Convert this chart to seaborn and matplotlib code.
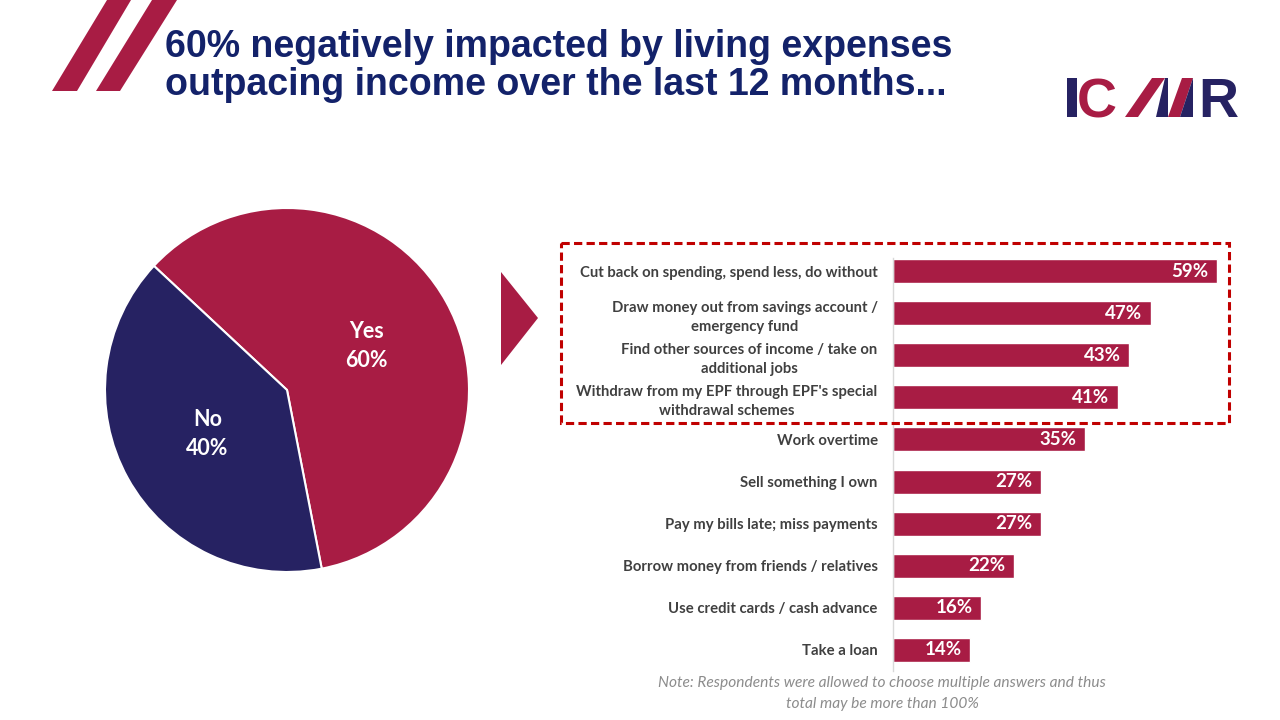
import numpy as np
import pandas as pd
import seaborn as sns
import matplotlib.pyplot as plt
from matplotlib.patches import Polygon, Rectangle


CRIMSON = '#A81C44'
NAVY = '#262262'
TITLE_NAVY = '#13226A'
LABEL_GREY = '#404040'

# pie data
pie_labels = ['Yes', 'No']
pie_values = [60, 40]

# bar data
actions = [
    'Cut back on spending, spend less, do without',
    'Draw money out from savings account /\nemergency fund',
    'Find other sources of income / take on\nadditional jobs',
    "Withdraw from my EPF through EPF's special\nwithdrawal schemes",
    'Work overtime',
    'Sell something I own',
    'Pay my bills late; miss payments',
    'Borrow money from friends / relatives',
    'Use credit cards / cash advance',
    'Take a loan',
]
action_pct = [59, 47, 43, 41, 35, 27, 27, 22, 16, 14]

title_lines = ['60% negatively impacted by living expenses',
               'outpacing income over the last 12 months...']
note_lines = ['Note: Respondents were allowed to choose multiple answers and thus',
              'total may be more than 100%']


sns.set_theme(style='white')
plt.rcParams['font.family'] = ['Lato', 'DejaVu Sans']

fig = plt.figure(figsize=(12.8, 7.2), dpi=100)
fig.patch.set_facecolor('white')

# ---- pie ----
ax_pie = fig.add_axes([105 / 1280, 148 / 720, 364 / 1280, 364 / 720])
wedges, texts = ax_pie.pie(
    pie_values,
    labels=[f'{l}\n{v}%' for l, v in zip(pie_labels, pie_values)],
    colors=[CRIMSON, NAVY],
    startangle=-79,
    labeldistance=0.5,
    wedgeprops=dict(edgecolor='white', linewidth=1.5),
    textprops=dict(color='white', fontsize=15.5, fontweight='bold'),
)
for t in texts:
    t.set_ha('center')
    t.set_va('center')
    t.set_multialignment('center')
    t.set_linespacing(1.45)
ax_pie.set_xlim(-1, 1)
ax_pie.set_ylim(-1, 1)

# ---- bars ----
df = pd.DataFrame({'action': actions, 'pct': action_pct})
ax = fig.add_axes([893 / 1280, 49 / 720, 340 / 1280, 421 / 720])
sns.barplot(data=df, x='pct', y='action', color=CRIMSON, width=0.57,
            saturation=1, ax=ax)
ax.set_xlim(0, 62)
ax.set_ylim(9.5, -0.5)
ax.set_xlabel('')
ax.set_ylabel('')
ax.set_xticks([])
ax.patch.set_alpha(0)
for side in ['top', 'right', 'bottom']:
    ax.spines[side].set_visible(False)
ax.spines['left'].set_color('#D9D9D9')
ax.spines['left'].set_linewidth(1)
ax.spines['left'].set_bounds(9.5, -0.31)
ax.tick_params(axis='y', length=0, pad=11)
for t in ax.get_yticklabels():
    t.set_fontsize(10.7)
    t.set_fontweight('bold')
    t.set_color(LABEL_GREY)
    t.set_multialignment('center')
    t.set_linespacing(1.5)

labels = ax.bar_label(ax.containers[0], labels=[f'{v}%' for v in action_pct],
                      padding=-6, color='white', fontsize=13.5, fontweight='bold')
for t in labels:
    t.set_ha('right')

# ---- decorations in pixel space ----
deco = fig.add_axes([0, 0, 1, 1], zorder=10)
deco.set_xlim(0, 1280)
deco.set_ylim(720, 0)
deco.axis('off')
deco.patch.set_alpha(0)

# slashes top left
deco.add_patch(Polygon([(52, 91), (77, 91), (131, 0), (107, 0)], color=CRIMSON, lw=0))
deco.add_patch(Polygon([(96, 91), (120, 91), (177, 0), (152, 0)], color=CRIMSON, lw=0))

# title
title_font = ['Liberation Sans', 'DejaVu Sans']
deco.text(165, 57, title_lines[0], fontsize=27, fontweight='bold', color=TITLE_NAVY,
          family=title_font, ha='left', va='baseline')
deco.text(165, 95, title_lines[1], fontsize=27, fontweight='bold', color=TITLE_NAVY,
          family=title_font, ha='left', va='baseline')

# logo
logo_font = ['Liberation Sans', 'DejaVu Sans']
deco.add_patch(Rectangle((1067, 78), 10, 39, color=NAVY, lw=0))
deco.text(1077, 117, 'C', fontsize=40, fontweight='bold', color=CRIMSON,
          family=logo_font, va='baseline', ha='left')
deco.add_patch(Polygon([(1125, 117), (1138, 117), (1165, 78), (1152, 78)], color=CRIMSON, lw=0))
deco.add_patch(Polygon([(1156, 117), (1168, 117), (1168, 78), (1165, 78)], color=NAVY, lw=0))
deco.add_patch(Polygon([(1168, 117), (1180, 117), (1193, 78), (1182, 78)], color=CRIMSON, lw=0))
deco.add_patch(Polygon([(1180, 117), (1193, 117), (1193, 78)], color=NAVY, lw=0))
deco.text(1198, 117, 'R', fontsize=40, fontweight='bold', color=NAVY,
          family=logo_font, va='baseline', ha='left')

# arrow
deco.add_patch(Polygon([(501, 272), (538, 318), (501, 365)], color=CRIMSON, lw=0))

# dashed box around the top four answers
deco.add_patch(Rectangle((561, 243), 668, 180, fill=False, edgecolor='#C00000',
                         lw=2.2, linestyle=(0, (2.7, 1.4))))

# note
deco.text(882, 683, note_lines[0], fontsize=11.2, style='italic', color='#8C8C8C',
          ha='center', va='center')
deco.text(882, 704, note_lines[1], fontsize=11.2, style='italic', color='#8C8C8C',
          ha='center', va='center')

fig.savefig('out.png', dpi=100, facecolor='white')
